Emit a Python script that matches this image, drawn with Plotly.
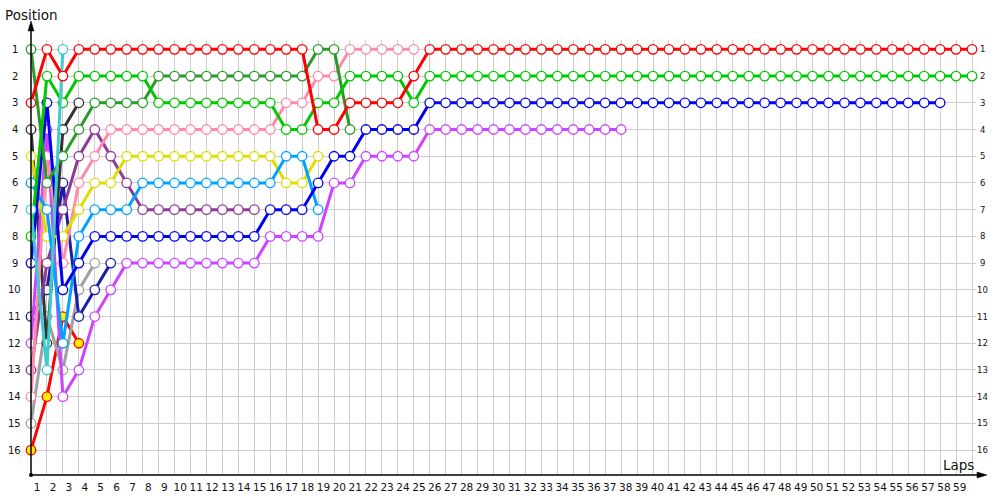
import plotly.graph_objects as go

# ---- data: position of each driver at each lap (lap 0 = grid) ----
laps_total = 59
pos_red = [3,1,2,1,1,1,1,1,1,1, 1,1,1,1,1,1,1,1,4,4, 3,3,3,3,2,1,1,1,1,1,
           1,1,1,1,1,1,1,1,1,1, 1,1,1,1,1,1,1,1,1,1, 1,1,1,1,1,1,1,1,1,1]
pos_green = [8,2,3,2,2,2,2,2,3,3, 3,3,3,3,3,3,4,4,3,3, 2,2,2,2,3,2,2,2,2,2,
             2,2,2,2,2,2,2,2,2,2, 2,2,2,2,2,2,2,2,2,2, 2,2,2,2,2,2,2,2,2,2]
pos_blue = [9,3,10,9,8,8,8,8,8,8, 8,8,8,8,8,7,7,7,6,5, 5,4,4,4,4,3,3,3,3,3,
            3,3,3,3,3,3,3,3,3,3, 3,3,3,3,3,3,3,3,3,3, 3,3,3,3,3,3,3,3]
pos_violet = [12,4,14,13,11,10,9,9,9,9, 9,9,9,9,9,8,8,8,8,6, 6,5,5,5,5,4,4,4,4,4,
              4,4,4,4,4,4,4,4]
pos_pink = [14,5,9,6,5,4,4,4,4,4, 4,4,4,4,4,4,3,3,2,2, 1,1,1,1,1]
pos_darkgreen = [1,6,5,4,3,3,3,3,2,2, 2,2,2,2,2,2,2,2,1,1, 4]
pos_yellow = [5,8,8,7,6,6,5,5,5,5, 5,5,5,5,5,5,6,6,5]
pos_lightblue = [6,7,12,8,7,7,7,6,6,6, 6,6,6,6,6,6,5,5,7]
pos_purple = [13,9,7,5,4,5,6,7,7,7, 7,7,7,7,7]
pos_navy = [11,10,6,11,10,9]
pos_gray = [15,11,13,10,9]
pos_black = [4,12,4,3]
pos_teal = [7,13,1]
pos_redyellow = [16,14,11,12]

# (positions, line colour, marker fill) in drawing order
series = [
    (pos_redyellow, "#ff0000", "#ffee00"),
    (pos_gray, "#a0a0a0", "white"),
    (pos_navy, "#1c1caa", "white"),
    (pos_black, "#333333", "white"),
    (pos_purple, "#8d3a98", "white"),
    (pos_violet, "#cc44ff", "white"),
    (pos_pink, "#ff8aaa", "white"),
    (pos_yellow, "#dede00", "white"),
    (pos_lightblue, "#00a2ff", "white"),
    (pos_blue, "#0000f0", "white"),
    (pos_darkgreen, "#2a9a2a", "white"),
    (pos_green, "#00c800", "white"),
    (pos_teal, "#40cccc", "white"),
    (pos_red, "#ff0000", "white"),
]

positions = list(range(1, 17))
lap_labels = [str(i) for i in range(1, laps_total + 1)]

FONT = "DejaVu Sans"
fig = go.Figure()
for vals, col, fill in series:
    fig.add_trace(go.Scatter(
        x=list(range(len(vals))), y=vals, mode="lines+markers",
        line=dict(color=col, width=3),
        marker=dict(symbol="circle", size=9.5, color=fill, line=dict(color=col, width=1.3)),
        cliponaxis=False, hoverinfo="skip", showlegend=False))

L, R, T, B = 31, 24, 40, 25
W, H = 1000, 500
pw, ph = W - L - R, H - T - B

def px(x):
    return (x - L) / pw

def py(y):
    return (H - B - y) / ph

# x tick label positions (labels sit between grid lines)
label_pos = [n - 0.62 - (n - 1) * 0.0025 for n in range(1, laps_total + 1)]

annotations = []
for p in positions:
    annotations.append(dict(x=px(14.5), xref="paper", y=p, yref="y", text=str(p),
                            showarrow=False, xanchor="center", yanchor="middle",
                            font=dict(family=FONT, size=10, color="#111")))
    annotations.append(dict(x=px(982), xref="paper", y=p, yref="y", text=str(p),
                            showarrow=False, xanchor="center", yanchor="middle",
                            font=dict(family=FONT, size=8.5, color="#111")))
annotations.append(dict(x=px(3), xref="paper", y=py(15), yref="paper", text="Position",
                        showarrow=False, xanchor="left", yanchor="middle",
                        font=dict(family=FONT, size=13.5, color="#111")))
annotations.append(dict(x=px(976), xref="paper", y=py(465), yref="paper", text="Laps",
                        showarrow=False, xanchor="right", yanchor="middle",
                        font=dict(family=FONT, size=13.5, color="#111")))

shapes = [
    dict(type="line", xref="paper", yref="paper", x0=0, y0=0, x1=0, y1=py(24),
         line=dict(color="black", width=1.5)),
    dict(type="line", xref="paper", yref="paper", x0=0, y0=0, x1=px(984), y1=0,
         line=dict(color="black", width=1.5)),
    dict(type="path", xref="paper", yref="paper",
         path=f"M {px(31)} {py(21)} L {px(28)} {py(31)} L {px(34)} {py(31)} Z",
         fillcolor="black", line=dict(color="black", width=0.5)),
    dict(type="path", xref="paper", yref="paper",
         path=f"M {px(987)} {py(475)} L {px(977)} {py(472)} L {px(977)} {py(478)} Z",
         fillcolor="black", line=dict(color="black", width=0.5)),
    dict(type="circle", xref="paper", yref="paper",
         x0=px(29), x1=px(33), y0=py(473), y1=py(477),
         fillcolor="black", line=dict(color="black", width=0)),
]

fig.update_layout(
    width=W, height=H, autosize=False,
    margin=dict(l=L, r=R, t=T, b=B, pad=0, autoexpand=False),
    paper_bgcolor="white", plot_bgcolor="white",
    font=dict(family=FONT, color="#111"),
    xaxis=dict(range=[0, 59.25], tickmode="array", tickvals=label_pos, ticktext=lap_labels,
               ticks="", showgrid=False, zeroline=False, showline=False,
               automargin=False, ticklabelstandoff=4,
               tickfont=dict(family=FONT, size=10.5, color="#111"),
               minor=dict(tickmode="array", tickvals=list(range(0, laps_total + 1)),
                          showgrid=True, gridcolor="#cdcdcd", gridwidth=1, ticks="")),
    yaxis=dict(range=[16.93, 0.65], tickmode="array", tickvals=positions,
               showticklabels=False, ticks="", showgrid=True, gridcolor="#cdcdcd",
               gridwidth=1, zeroline=False, showline=False, automargin=False),
    annotations=annotations, shapes=shapes,
)

fig.write_html("out.html", config={"displayModeBar": False},
               post_script="document.body.style.margin='0px';document.body.style.overflow='hidden';")
